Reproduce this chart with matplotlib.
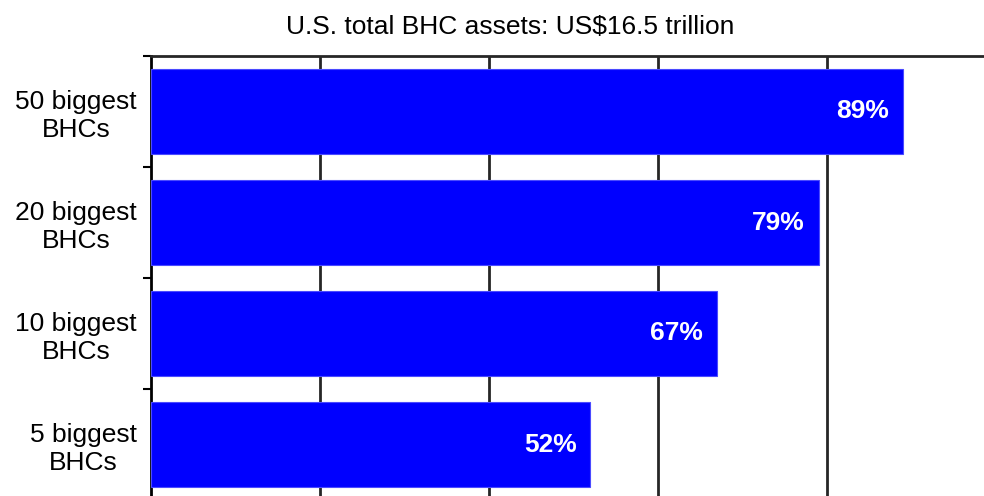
import numpy as np
import matplotlib
matplotlib.use("Agg")
from matplotlib import pyplot as plt

# data
categories = ['50 biggest\nBHCs', '20 biggest\nBHCs', '10 biggest\nBHCs', '5 biggest\nBHCs']
shares = [89, 79, 67, 52]
bar_labels = ['89%', '79%', '67%', '52%']
title = 'U.S. total BHC assets: US$16.5 trillion'

plt.rcParams['font.family'] = ['Liberation Sans', 'DejaVu Sans']

fig = plt.figure(figsize=(9.84, 4.96), dpi=100)
W, H = 984.0, 496.0
# axes runs a little past the picture on the right and bottom, like the original crop
ax = fig.add_axes([151 / W, -4 / H, 845 / W, 444 / H])

y = np.arange(len(categories))
ax.barh(y, shares, height=0.77, color='#0000ff', edgecolor='#4a4aff', linewidth=0.8, zorder=3)
ax.set_ylim(len(categories) - 0.5, -0.5)
ax.set_xlim(0, 100)

for yi, v, lab in zip(y, shares, bar_labels):
    ax.annotate(lab, (v, yi), xytext=(-10, 0), textcoords='offset points',
                ha='right', va='center', color='white',
                fontsize=19, fontweight='bold', zorder=4)

# gridlines behind the bars
ax.set_xticks([20, 40, 60, 80])
ax.tick_params(axis='x', length=0, labelbottom=False)
ax.grid(axis='x', color='#262626', linewidth=2, zorder=1)

# boundary ticks (major), category labels (minor)
ax.set_yticks(np.arange(len(categories) + 1) - 0.5)
ax.set_yticklabels([])
ax.tick_params(axis='y', which='major', length=6, width=1.5, direction='out', color='black')
ax.set_yticks(y, minor=True)
ax.set_yticklabels(categories, minor=True, fontsize=19, multialignment='center')
ax.tick_params(axis='y', which='minor', length=0, pad=10)

for s in ['right', 'bottom']:
    ax.spines[s].set_visible(False)
ax.spines['left'].set_linewidth(2)
ax.spines['left'].set_color('black')
ax.spines['top'].set_linewidth(2)
ax.spines['top'].set_color('#262626')

fig.text(510 / W, 1 - 27 / H, title, ha='center', va='center', fontsize=19)

fig.savefig('out.png', dpi=100)
